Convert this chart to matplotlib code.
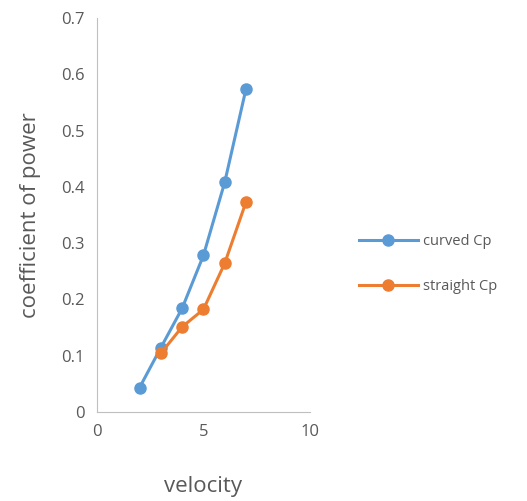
import matplotlib.pyplot as plt

velocity = [2, 3, 4, 5, 6, 7]
curved_cp = [0.043, 0.114, 0.184, 0.278, 0.408, 0.574]
straight_velocity = [3, 4, 5, 6, 7]
straight_cp = [0.104, 0.151, 0.182, 0.264, 0.373]

plt.rcParams['font.family'] = ['Open Sans', 'DejaVu Sans']
txt = '#595959'

fig = plt.figure(figsize=(5.27, 5.01), dpi=100)
ax = fig.add_axes([0.184, 0.178, 0.404, 0.786])

ax.plot(velocity, curved_cp, color='#5b9bd5', lw=2.2, marker='o', ms=8, label='curved Cp')
ax.plot(straight_velocity, straight_cp, color='#ed7d31', lw=2.2, marker='o', ms=8, label='straight Cp')

ax.set_xlim(0, 10)
ax.set_ylim(0, 0.7)
ax.set_xticks([0, 5, 10])
ax.set_yticks([0, 0.1, 0.2, 0.3, 0.4, 0.5, 0.6, 0.7])
ax.set_yticklabels(['0', '0.1', '0.2', '0.3', '0.4', '0.5', '0.6', '0.7'])
ax.tick_params(length=0, labelsize=12, labelcolor=txt, pad=9)
for s in ['top', 'right']:
    ax.spines[s].set_visible(False)
for s in ['left', 'bottom']:
    ax.spines[s].set_color('#bfbfbf')

ax.set_xlabel('velocity', fontsize=16, color=txt, labelpad=26)
ax.set_ylabel('coefficient of power', fontsize=16, color=txt, labelpad=14)

ax.legend(loc='center left', bbox_to_anchor=(1.17, 0.375), frameon=False,
          fontsize=10.5, labelcolor=txt, handlelength=4.0, labelspacing=2.1, handletextpad=0.4)

fig.savefig('out.png')
